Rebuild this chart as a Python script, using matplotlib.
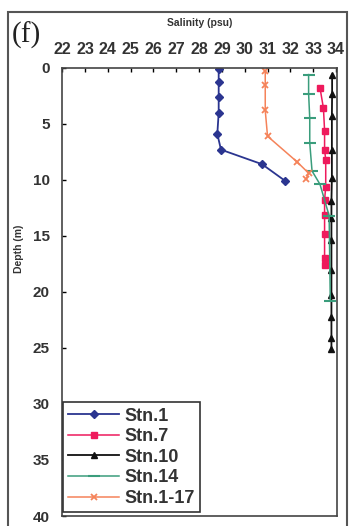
import matplotlib
matplotlib.use("Agg")
import matplotlib.pyplot as plt
from matplotlib.patches import Rectangle

# Salinity profiles (psu) against depth (m) per station
STN1_DEPTH = [0.1, 1.3, 2.6, 4.0, 5.9, 7.3, 8.6, 10.1]
STN1_SAL = [28.86, 28.86, 28.86, 28.86, 28.8, 28.96, 30.76, 31.78]

STN7_DEPTH = [1.8, 3.6, 5.6, 7.3, 8.2, 10.6, 11.8, 13.1, 14.8, 17.0, 17.6]
STN7_SAL = [33.3, 33.45, 33.5, 33.5, 33.55, 33.55, 33.5, 33.5, 33.5, 33.5, 33.5]

STN10_DEPTH = [0.6, 2.3, 4.3, 7.3, 9.8, 11.9, 13.4, 15.4, 18.0, 20.3, 22.2, 24.1, 25.1]
STN10_SAL = [33.83, 33.83, 33.82, 33.82, 33.82, 33.8, 33.8, 33.8, 33.8, 33.8, 33.8, 33.8, 33.8]

STN14_DEPTH = [0.6, 2.3, 4.5, 6.7, 9.2, 10.4, 13.2, 20.8]
STN14_SAL = [32.8, 32.8, 32.85, 32.85, 32.95, 33.3, 33.7, 33.75]

STN117_DEPTH = [0.3, 1.5, 3.8, 6.1, 8.4, 9.4, 9.9]
STN117_SAL = [30.9, 30.9, 30.9, 31.0, 32.3, 32.8, 32.7]

SAL_TICKS = list(range(22, 35))
DEPTH_TICKS = list(range(0, 45, 5))

plt.rcParams["font.family"] = ["Liberation Sans", "DejaVu Sans"]
plt.rcParams["font.weight"] = "bold"

fig = plt.figure(figsize=(3.49, 5.26), dpi=100)
ax = fig.add_axes([0.178, 0.019, 0.788, 0.852])

ax.plot(STN1_SAL, STN1_DEPTH, color="#2b3590", marker="D", ms=4.5, lw=1.3, label="Stn.1")
ax.plot(STN7_SAL, STN7_DEPTH, color="#ee1a5c", marker="s", ms=5, lw=1.1, label="Stn.7")
ax.plot(STN10_SAL, STN10_DEPTH, color="#111111", marker="^", ms=5, lw=1.3, label="Stn.10")
ax.plot(STN14_SAL, STN14_DEPTH, color="#3a9d7c", marker="_", ms=8, mew=1.5, lw=1.1, label="Stn.14")
ax.plot(STN117_SAL, STN117_DEPTH, color="#f5835a", marker="x", ms=4.5, mew=1.3, lw=1.1, label="Stn.1-17")

ax.set_xlim(22, 34.05)
ax.set_ylim(40, 0)
ax.set_xticks(SAL_TICKS)
ax.set_yticks(DEPTH_TICKS)
ax.xaxis.tick_top()
ax.tick_params(axis="x", direction="in", length=3, width=1, pad=8, labelsize=11.5)
ax.tick_params(axis="y", direction="in", length=3, width=1, pad=9, labelsize=11)
for lab in ax.get_xticklabels() + ax.get_yticklabels():
    lab.set_fontweight("bold")
    lab.set_color("#333")
for s in ax.spines.values():
    s.set_color("#444")
    s.set_linewidth(1.2)

leg = ax.legend(loc="lower left", bbox_to_anchor=(0.003, 0.008), borderaxespad=0.0,
                fancybox=False, framealpha=1, edgecolor="#333", handlelength=2.8,
                handletextpad=0.3, labelspacing=0.2, borderpad=0.3,
                prop={"weight": "bold", "size": 13})
leg.get_frame().set_linewidth(1.2)
for t in leg.get_texts():
    t.set_color("#333")

fig.text(0.573, 0.956, "Salinity (psu)", ha="center", va="center", fontsize=7.5,
         fontweight="bold", color="#333")
fig.text(0.054, 0.527, "Depth (m)", ha="center", va="center", rotation=90,
         fontsize=7.5, fontweight="bold", color="#333")
fig.text(0.033, 0.932, "(f)", ha="left", va="center", fontsize=21,
         family="Liberation Serif", fontweight="normal", color="#222")

fig.patches.append(Rectangle((0.023, -0.01), 0.971, 0.987, transform=fig.transFigure,
                             fill=False, ec="#555", lw=1.5))

fig.savefig("out.png", dpi=100)
